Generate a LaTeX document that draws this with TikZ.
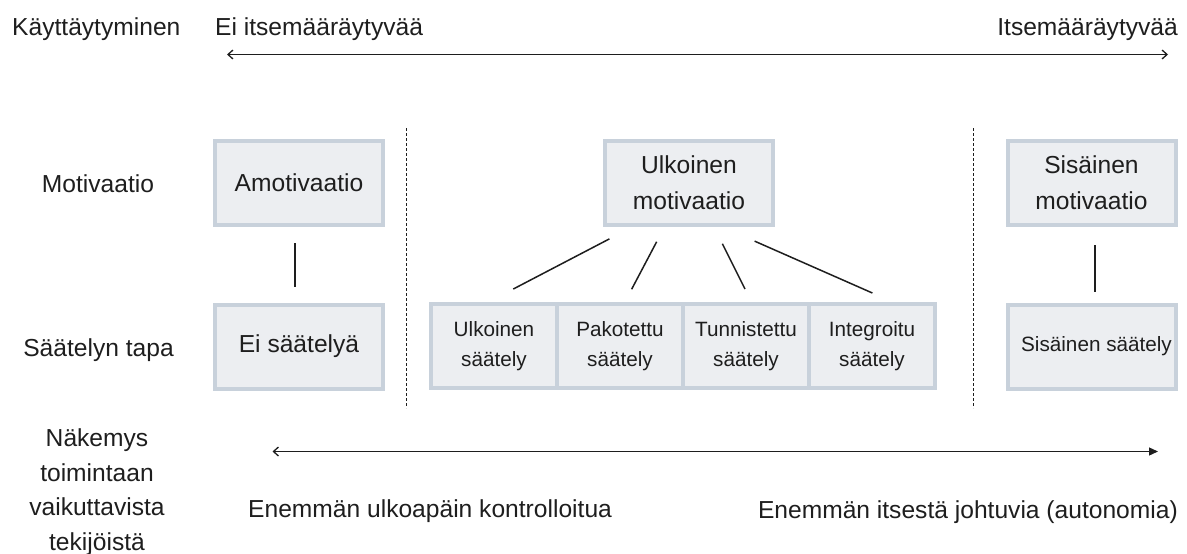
\documentclass[tikz,border=0pt]{standalone}
\usepackage{fontspec}
\setmainfont{Liberation Sans}
\usetikzlibrary{positioning,arrows.meta}
\definecolor{boxfill}{RGB}{236,238,241}
\definecolor{boxline}{RGB}{200,209,219}
\definecolor{ink}{RGB}{30,30,30}

\begin{document}
\begin{tikzpicture}[x=1pt, y=-1pt, node distance=0pt, auto,
  caption/.style={text=ink, inner sep=0pt, font=\fontsize{24.6}{34.5}\selectfont},
  bigbox/.style={draw=boxline, fill=boxfill, line width=4pt, text=ink,
    minimum width=168pt, minimum height=84pt, inner sep=0pt, outer sep=0pt,
    align=center, font=\fontsize{24.6}{36}\selectfont},
  smallbox/.style={bigbox, minimum width=126pt, font=\fontsize{20.7}{30}\selectfont},
  link/.style={draw=ink, line width=1.5pt},
  sep/.style={draw=ink, line width=0.9pt, dash pattern=on 3pt off 2pt}]

\useasboundingbox (0,0) rectangle (1187,554);

% top scale
\node (behav) [caption, anchor=base west] at (12,35) {Käyttäytyminen};
\node (notself) [caption, anchor=base west] at (215,35) {Ei itsemääräytyvää};
\node (self) [caption, anchor=base east] at (1178,35) {Itsemääräytyvää};
\coordinate (topl) at (227,54.5);
\coordinate (topr) at (1168,54.5);
\draw[draw=ink, line width=1.3pt, {Straight Barb[length=5pt,width=9pt]}-{Straight Barb[length=5pt,width=9pt]}] (topl) -- (topr);

% row labels
\node (motlbl) [caption, anchor=base] at (98,192) {Motivaatio};
\node (reglbl) [caption, anchor=base] at (98.5,356) {Säätelyn tapa};
\node (viewlbl) [caption, align=center] at (97,492) {Näkemys\\toimintaan\\vaikuttavista\\tekijöistä};

% boxes
\node (amot) [bigbox] at (299,183) {Amotivaatio};
\node (noreg) [bigbox] at (299,346.5) {Ei säätelyä};
\node (umot) [bigbox] at (689,183) {Ulkoinen\\motivaatio};
\node (imot) [bigbox] at (1091.5,183) {Sisäinen\\motivaatio};
\node (ireg) [bigbox, font=\fontsize{20.7}{30}\selectfont] at (1091.5,346.5) {\hspace*{10pt}Sisäinen säätely};

\node (ereg) [smallbox] at (494,346.3) {Ulkoinen\\säätely};
\node (preg) [smallbox, right=of ereg] {Pakotettu\\säätely};
\node (treg) [smallbox, right=of preg] {Tunnistettu\\säätely};
\node (intreg) [smallbox, right=of treg] {Integroitu\\säätely};

% connectors
\draw[link, shorten <=18pt, shorten >=17.5pt] ([xshift=-4pt]amot.south) -- ([xshift=-4pt]noreg.north);
\draw[link, shorten <=20pt, shorten >=12.5pt] ([xshift=3.5pt]imot.south) -- ([xshift=3.5pt]ireg.north);
\draw[link, shorten <=30pt, shorten >=33pt] ([xshift=-53pt]umot.south) -- ([xshift=-10pt]ereg.north);
\draw[link, shorten <=19pt, shorten >=17pt] ([xshift=-23.5pt]umot.south) -- ([xshift=3.7pt]preg.north);
\draw[link, shorten <=21pt, shorten >=17pt] ([xshift=24pt]umot.south) -- ([xshift=6.6pt]treg.north);
\draw[link, shorten <=40pt, shorten >=28pt] ([xshift=29pt]umot.south) -- ([xshift=26pt]intreg.north);

% separators
\draw[sep] (406,128) -- (406,408);
\draw[sep] (973.5,128) -- (973.5,408);

% bottom scale
\coordinate (botl) at (272.5,451.5);
\coordinate (botr) at (1158,451.5);
\draw[draw=ink, line width=1.3pt, {Straight Barb[length=5pt,width=9pt]}-{Triangle[length=9pt,width=8pt]}] (botl) -- (botr);
\node (outctl) [caption, anchor=base west] at (248,517) {Enemmän ulkoapäin kontrolloitua};
\node (auton) [caption, anchor=base east] at (1178,518) {Enemmän itsestä johtuvia (autonomia)};

\end{tikzpicture}
\end{document}
